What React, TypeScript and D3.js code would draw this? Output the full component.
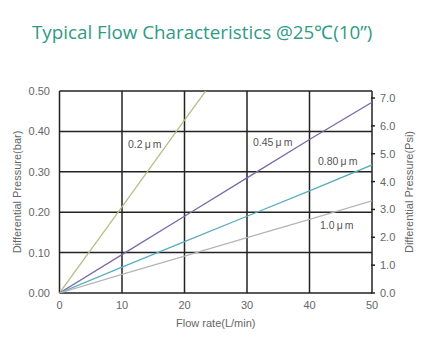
import * as d3 from 'd3';

const flowTicks = [0, 10, 20, 30, 40, 50];
const barTicks = [0, 0.1, 0.2, 0.3, 0.4, 0.5];
const psiTicks = [0, 1, 2, 3, 4, 5, 6, 7];

const flow = [0, 10, 20, 30, 40, 50];
const series = [
  { name: '0.2\u2009\u03bc\u2009m', color: '#b3c084', values: [0, 0.213, 0.428, 0.64, 0.85, 1.07], label: [128, 148] },
  { name: '0.45\u2009\u03bc\u2009m', color: '#7c6aa6', values: [0, 0.095, 0.19, 0.285, 0.38, 0.472], label: [253, 146] },
  { name: '0.80\u2009\u03bc\u2009m', color: '#58aebf', values: [0, 0.064, 0.127, 0.19, 0.253, 0.317], label: [318, 165] },
  { name: '1.0\u2009\u03bc\u2009m', color: '#b5b5b5', values: [0, 0.046, 0.091, 0.137, 0.182, 0.228], label: [320, 229] },
];

const BAR_TO_PSI = 14.5038;

export default function App() {
  const W = 429, H = 351;
  const left = 59.5, right = 372, top = 91, bottom = 293;

  const x = d3.scaleLinear().domain([0, 50]).range([left, right]);
  const y = d3.scaleLinear().domain([0, 0.5]).range([bottom, top]);
  const yPsi = d3.scaleLinear().domain([0, 0.5 * BAR_TO_PSI]).range([bottom, top]);

  const line = d3.line<number>().x((_, i) => x(flow[i])).y(d => y(d));
  const font = 'Liberation Sans, Arial, sans-serif';

  return (
    <svg width={W} height={H} style={{ position: 'absolute', left: 0, top: 0, background: '#fff' }}>
      <defs>
        <clipPath id="plot">
          <rect x={left} y={top} width={right - left} height={bottom - top} />
        </clipPath>
      </defs>
      <text x={32} y={39} fill="#2f9a85" fontFamily="Open Sans, sans-serif" fontSize={18.8}>
        Typical Flow Characteristics @25℃(10”)
      </text>

      {/* grid */}
      {flowTicks.map(t => (
        <line key={'gx' + t} x1={x(t)} x2={x(t)} y1={top} y2={bottom} stroke="#222" strokeWidth={1.5} />
      ))}
      {barTicks.map(t => (
        <line key={'gy' + t} x1={left} x2={right} y1={y(t)} y2={y(t)} stroke="#222" strokeWidth={1.5} />
      ))}
      {psiTicks.map(t => (
        <line key={'pt' + t} x1={right - 1} x2={right + 3} y1={yPsi(t)} y2={yPsi(t)} stroke="#222" strokeWidth={1.5} />
      ))}

      {/* series */}
      <g clipPath="url(#plot)">
        {series.map(s => (
          <path key={s.name} d={line(s.values) || ''} fill="none" stroke={s.color} strokeWidth={1.3} />
        ))}
      </g>
      {series.map(s => (
        <text key={'l' + s.name} x={s.label[0]} y={s.label[1]} fontFamily={font} fontSize={10.5} fill="#555">
          {s.name}
        </text>
      ))}

      {/* tick labels */}
      {barTicks.map(t => (
        <text key={'bl' + t} x={50} y={y(t) + 4} textAnchor="end" fontFamily={font} fontSize={11} fill="#666">
          {t.toFixed(2)}
        </text>
      ))}
      {psiTicks.map(t => (
        <text key={'pl' + t} x={380} y={yPsi(t) + 4} fontFamily={font} fontSize={11} fill="#666">
          {t.toFixed(1)}
        </text>
      ))}
      {flowTicks.map(t => (
        <text key={'fl' + t} x={x(t)} y={309} textAnchor="middle" fontFamily={font} fontSize={11} fill="#666">
          {t}
        </text>
      ))}

      <text x={x(25)} y={327} textAnchor="middle" fontFamily={font} fontSize={11} fill="#666">Flow rate(L/min)</text>
      <text transform={`translate(21,${(top + bottom) / 2}) rotate(-90)`} textAnchor="middle" fontFamily={font} fontSize={11} fill="#666">
        Differential Pressure(bar)
      </text>
      <text transform={`translate(413,${(top + bottom) / 2}) rotate(-90)`} textAnchor="middle" fontFamily={font} fontSize={11} fill="#666">
        Differential Pressure(Psi)
      </text>
    </svg>
  );
}
